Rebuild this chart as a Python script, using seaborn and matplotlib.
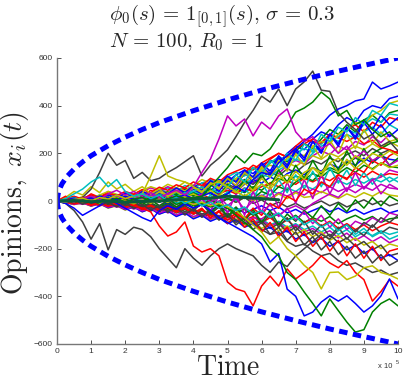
import numpy as np
import pandas as pd
import matplotlib
matplotlib.use('Agg')
import matplotlib.pyplot as plt
import seaborn as sns

# time axis in units of 10^5
time_1e5 = [0, 0.25, 0.5, 0.75, 1, 1.25, 1.5, 1.75, 2, 2.25, 2.5, 2.75, 3, 3.25, 3.5, 3.75,
            4, 4.25, 4.5, 4.75, 5, 5.25, 5.5, 5.75, 6, 6.25, 6.5, 6.75, 7, 7.25, 7.5, 7.75,
            8, 8.25, 8.5, 8.75, 9, 9.25, 9.5, 9.75, 10]

# trajectories that stand out from the crowd
gray_up = [0, 5, -10, 15, 50, 120, 200, 150, 170, 95, 120, 85, 95, 120, 140, 165, 190, 105, 150, 180, 215,
           270, 330, 380, 440, 415, 470, 400, 470, 500, 545, 465, 460, 370, 330, 300, 260, 280, 230, 250, 210]
gray_down = [0, -10, -40, -88, -160, -95, -205, -120, -140, -110, -120, -150, -200, -240, -280, -200, -240,
             -270, -230, -200, -180, -200, -215, -230, -270, -300, -256, -275, -230, -200, -170, -140, -160,
             -120, -100, -130, -90, -110, -70, -90, -60]
red_down = [0, 20, -10, 15, 0, -20, 10, -15, 5, -20, -30, -46, -105, -147, -130, -88, -189, -214, -200, -230,
            -340, -369, -380, -440, -357, -315, -357, -285, -327, -300, -270, -230, -260, -280, -250, -300,
            -330, -420, -380, -330, -357]
blue_down = [0, -10, -30, -60, -40, -20, 10, -10, -30, -50, -70, -85, -40, -20, -35, -10, -30, -15, -40, -70,
             -90, -110, -130, -150, -180, -256, -220, -370, -400, -482, -466, -424, -398, -420, -398, -430,
             -466, -440, -398, -327, -411]
green_down = [0, 5, -5, 10, 0, -10, 5, -5, 10, -10, 0, 15, -5, 10, -15, 0, -20, -10, -25, -15, -30, -60, -90,
              -120, -150, -200, -230, -300, -330, -382, -430, -482, -411, -460, -508, -550, -540, -466, -430,
              -411, -440]
yellow_down = [0, -5, 8, -3, 10, -8, 5, 15, 0, -12, 5, -10, 8, -5, 12, 0, -15, -5, -20, -10, -25, -40, -70,
               -100, -130, -180, -150, -200, -230, -270, -300, -369, -300, -298, -330, -315, -280, -272, -300,
               -310, -327]
blue_up = [0, -5, 8, 0, 12, -4, 15, 5, 20, 8, -5, 10, 20, 5, 15, 25, 10, 20, 35, 15, 30, 60, 40, 90, 120, 110,
           160, 190, 220, 250, 280, 320, 360, 386, 400, 420, 428, 499, 470, 483, 499]
green_up = [0, 4, -6, 8, -4, 10, 0, 12, -5, 8, 15, 0, 18, 5, 22, 10, 15, 20, 60, 100, 140, 190, 160, 200, 190,
            218, 273, 315, 373, 390, 415, 457, 428, 357, 380, 320, 340, 300, 270, 290, 250]
magenta_up = [0, 6, -4, 10, 20, 5, 30, 45, 25, 40, 20, 35, 15, 30, 45, 25, 60, 120, 176, 260, 357, 315, 344,
              273, 331, 302, 357, 386, 290, 250, 270, 220, 240, 200, 230, 180, 210, 170, 190, 150, 170]
yellow_up = [0, -4, 6, 12, 0, 15, 8, 25, 10, 20, 30, 105, 190, 105, 90, 80, 60, 40, 70, 80, 60, 40, 20, 45, 70,
             50, 90, 110, 85, 120, 140, 120, 160, 180, 150, 190, 170, 200, 185, 210, 190]
cyan_early = [0, 10, 30, 50, 80, 100, 60, 90, 40, 20, 30, 10, 25, 0, 15, -10, 5, -20, -5, -30, -15, -40, -25,
              -55, -40, -70, -50, -85, -65, -100, -80, -110, -90, -125, -100, -140, -115, -150, -130, -160, -145]

# the crowd of remaining agents (read roughly from the fan)
crowd = [
    [0, 8, -5, 12, 20, 10, 25, 15, 30, 20, 35, 28, 45, 38, 55, 40, 60, 75, 65, 90, 80, 110, 130, 115, 150, 170,
     160, 200, 230, 215, 260, 290, 275, 320, 350, 330, 380, 400, 390, 430, 440],
    [0, -6, 10, 4, -8, 15, 5, 22, 12, -5, 10, 30, 20, 40, 25, 50, 35, 60, 45, 70, 95, 80, 110, 140, 120, 160,
     180, 165, 210, 240, 220, 260, 300, 280, 320, 290, 340, 360, 330, 370, 380],
    [0, 10, 20, 5, 30, 15, 40, 25, 10, 30, 20, 45, 30, 15, 40, 55, 35, 60, 80, 65, 100, 85, 120, 150, 135, 175,
     200, 185, 230, 260, 250, 240, 280, 265, 300, 320, 290, 330, 310, 350, 340],
    [0, -5, 8, -3, 12, 25, 10, 18, 5, 20, 35, 20, 40, 55, 40, 65, 50, 75, 90, 70, 100, 120, 105, 140, 125, 160,
     185, 170, 200, 220, 205, 240, 265, 250, 280, 260, 290, 310, 280, 320, 300],
    [0, 6, -4, 10, 0, 15, 30, 18, 35, 22, 40, 55, 42, 60, 45, 35, 50, 30, 45, 60, 40, 70, 90, 75, 110, 130, 115,
     150, 170, 155, 190, 210, 195, 230, 215, 250, 235, 270, 245, 280, 260],
    [0, -4, 6, 18, 8, 25, 40, 28, 15, 30, 45, 60, 48, 70, 55, 80, 65, 90, 75, 55, 70, 90, 80, 105, 125, 110, 140,
     160, 145, 170, 190, 175, 200, 185, 210, 230, 215, 240, 220, 250, 230],
    [0, 5, -8, 0, -12, 5, -5, 10, 0, 15, 5, 20, 8, 25, 15, 35, 20, 40, 30, 50, 70, 55, 85, 70, 100, 120, 105,
     135, 120, 150, 170, 155, 180, 165, 195, 210, 190, 220, 200, 215, 200],
    [0, -8, 4, -10, 6, -4, 12, 0, 18, 5, 25, 10, 30, 18, 5, 25, 40, 20, 45, 30, 55, 40, 70, 90, 75, 100, 85, 115,
     130, 110, 140, 125, 155, 140, 165, 150, 180, 160, 190, 175, 170],
    [0, 7, -3, 14, 4, 20, 8, -6, 10, -2, 16, 28, 12, 30, 18, 40, 22, 45, 30, 15, 35, 50, 35, 60, 45, 75, 95, 80,
     105, 90, 115, 100, 130, 115, 140, 120, 150, 135, 160, 145, 140],
    [0, -3, -12, -4, -18, -6, 5, -8, 10, 0, -10, 8, -5, 15, 2, 20, 8, 25, 12, 30, 45, 30, 55, 40, 60, 75, 60, 85,
     70, 95, 80, 100, 85, 110, 95, 120, 100, 125, 105, 115, 110],
    [0, 5, 15, 5, 20, 10, 28, 15, -2, 12, -6, 8, 22, 5, 18, -4, 10, -8, 6, 20, 5, 25, 10, 35, 20, 45, 30, 55, 40,
     65, 50, 75, 60, 85, 70, 90, 75, 95, 80, 100, 80],
    [0, -5, 5, -8, -18, -5, -20, -8, 2, -12, 6, -6, 10, 0, 15, 3, -10, 8, -15, 0, 12, -5, 20, 5, 25, 10, 35, 20,
     40, 25, 50, 35, 60, 40, 55, 35, 60, 45, 70, 55, 50],
    [0, 4, -6, 8, -2, -14, 0, -18, -6, 5, -10, 10, -5, 12, -2, 15, 0, 20, 5, -8, 10, -5, 15, 0, 22, 5, 30, 10,
     35, 15, 20, 40, 25, 10, 30, 15, 35, 20, 40, 25, 20],
    [0, -4, 6, -2, 10, 0, -12, 2, -18, -5, -25, -10, -30, -15, -5, -20, 0, -12, 5, -8, 10, -5, 15, -10, 5, -20,
     -5, -25, -10, -30, -15, 0, -20, -5, -25, -10, 5, -15, 0, -20, -10],
    [0, 6, -2, -12, -4, -16, -8, -22, -10, -28, -15, -35, -20, -8, -25, -12, -30, -15, -38, -20, -45, -28, -50,
     -35, -20, -40, -25, -50, -35, -55, -40, -25, -45, -30, -50, -35, -55, -40, -30, -50, -40],
    [0, -6, -14, -5, -20, -10, -26, -15, -32, -20, -38, -24, -45, -30, -50, -35, -55, -40, -60, -45, -30, -50,
     -35, -60, -45, -70, -55, -80, -60, -90, -70, -85, -65, -95, -75, -60, -80, -65, -90, -75, -70],
    [0, 5, -5, 3, -10, -2, -16, -6, -22, -12, -30, -18, -38, -25, -45, -30, -52, -35, -60, -45, -70, -55, -80,
     -65, -90, -70, -100, -80, -110, -90, -75, -105, -85, -115, -95, -120, -100, -125, -105, -90, -100],
    [0, -8, 2, -12, -4, -18, -10, -24, -15, -30, -22, -38, -28, -45, -35, -55, -40, -60, -48, -70, -55, -80, -65,
     -90, -75, -100, -85, -110, -95, -120, -105, -130, -110, -140, -120, -150, -130, -145, -125, -140, -130],
    [0, 4, -6, -14, -8, -20, -12, -26, -18, -34, -24, -42, -30, -50, -38, -58, -45, -66, -52, -75, -60, -85, -70,
     -95, -80, -105, -90, -120, -100, -130, -115, -140, -125, -155, -135, -165, -145, -170, -150, -175, -160],
    [0, -5, -15, -8, -22, -12, -30, -20, -38, -25, -45, -32, -55, -40, -62, -48, -70, -55, -80, -62, -90, -75,
     -100, -85, -115, -95, -125, -105, -140, -120, -150, -130, -165, -145, -175, -155, -185, -170, -200, -180, -190],
    [0, 6, -4, -10, -2, -16, -8, -22, -14, -30, -20, -40, -28, -48, -36, -58, -44, -68, -52, -78, -60, -90, -70,
     -100, -85, -115, -95, -130, -110, -145, -125, -160, -140, -175, -155, -190, -170, -205, -185, -230, -220],
    [0, -4, -12, -6, -20, -10, -28, -18, -36, -25, -45, -32, -55, -42, -65, -50, -75, -60, -85, -70, -95, -80,
     -110, -95, -125, -110, -140, -125, -160, -140, -175, -155, -190, -170, -205, -185, -220, -200, -240, -225, -250],
    [0, 5, -5, 8, -8, 4, -12, 0, -15, -5, -20, -8, -25, -12, -30, -15, -5, -20, 0, -10, 10, 0, 25, 10, 40, 25,
     60, 45, 80, 100, 85, 120, 140, 125, 160, 180, 165, 200, 220, 240, 250],
    [0, 8, 18, 10, 25, 15, 32, 22, 40, 28, 48, 35, 58, 45, 68, 55, 80, 65, 95, 80, 110, 125, 140, 130, 160, 180,
     200, 185, 220, 240, 260, 245, 280, 265, 250, 270, 240, 255, 225, 215, 200],
    [0, -5, 6, -2, 10, 2, 15, 5, 20, 8, 25, 12, 30, 18, 35, 22, 40, 28, 50, 35, 60, 45, 75, 90, 110, 100, 130,
     150, 175, 165, 200, 230, 250, 270, 300, 285, 320, 345, 330, 365, 360],
    [0, -6, -14, -8, -20, -12, -26, -18, -35, -24, -42, -30, -50, -38, -58, -45, -65, -55, -75, -60, -80, -65,
     -90, -70, -75, -50, -60, -35, -20, -40, -10, 10, 30, 15, 50, 70, 55, 90, 100, 130, 120],
    [0, 4, 12, 6, 18, 10, 24, 16, 30, 20, 38, 28, 45, 35, 55, 42, 65, 50, 75, 85, 70, 95, 115, 100, 135, 150,
     140, 180, 200, 190, 230, 250, 240, 280, 300, 330, 320, 360, 380, 410, 420],
    [0, -5, 5, -8, 2, -12, -4, -18, -8, -24, -14, -30, -20, -38, -26, -45, -32, -55, -40, -65, -50, -80, -95, -85,
     -120, -140, -130, -170, -190, -180, -210, -230, -220, -250, -270, -260, -280, -300, -290, -310, -300],
    [0, 10, -5, 15, 5, 20, 10, 25, 5, 20, 30, 15, 35, 20, 40, 25, 50, 30, 70, 40, 90, 60, 120, 80, 150, 110, 180,
     140, 210, 170, 250, 200, 280, 230, 310, 260, 330, 280, 320, 270, 300],
    [0, -8, 5, -12, 0, -15, 5, -10, 15, -5, 20, 0, 25, 5, 30, 10, 35, 10, 50, 20, 70, 35, 90, 50, 110, 60, 130,
     80, 150, 95, 170, 110, 190, 130, 210, 145, 220, 160, 200, 150, 180],
    [0, 5, -10, 0, -15, -5, -20, -5, -25, -10, -30, -15, -35, -20, -40, -25, -50, -30, -70, -40, -95, -60, -110,
     -75, -130, -90, -150, -110, -170, -130, -190, -150, -210, -165, -230, -180, -240, -190, -250, -210, -200],
    [0, 6, 15, 0, 10, -8, 5, -12, 0, 15, 5, 20, -5, 10, -10, 5, 15, -15, 25, -10, 40, 0, 55, 10, 75, 20, 90, 35,
     110, 50, 125, 60, 140, 75, 130, 65, 120, 70, 115, 80, 100],
    [0, -5, 5, -10, 10, -5, 15, -5, 20, 0, -15, 10, -20, 5, -25, 0, -30, 10, -40, 20, -50, 30, -60, 40, -50, 60,
     -30, 80, -10, 90, 10, 110, 30, 100, 40, 120, 50, 90, 30, 70, 50],
    [0, -4, 8, 0, 12, 4, 18, 8, 24, 12, 30, 15, 38, 20, 45, 25, 55, 35, 75, 50, 95, 65, 120, 85, 145, 100, 170,
     125, 195, 150, 230, 180, 255, 200, 280, 220, 300, 240, 290, 250, 260],
    [0, 5, -5, 10, -10, 5, -15, 0, -20, -5, -25, -10, -30, -15, -35, -20, -40, -10, -55, -25, -70, -35, -80, -45,
     -95, -55, -110, -70, -125, -85, -140, -100, -150, -110, -160, -120, -145, -100, -135, -110, -120],
    [0, 5, 12, 4, 18, 8, 25, 12, 32, 18, 40, 25, 48, 30, 55, 35, 65, 45, 85, 65, 105, 80, 130, 100, 160, 125, 190,
     150, 220, 180, 250, 210, 280, 240, 310, 270, 340, 300, 360, 320, 350],
    [0, -3, 8, -6, 12, -2, 16, 0, -10, 8, -15, 5, -20, 0, -25, -5, -30, -5, -50, -15, -65, -25, -80, -35, -90, -40,
     -100, -55, -85, -40, -70, -20, -60, -10, -45, 5, -30, 15, -20, 20, 0],
    [0, -5, -12, -4, -18, -8, -22, -10, -28, -15, -35, -20, -40, -25, -48, -30, -55, -35, -70, -45, -80, -50, -75,
     -30, -60, -10, -30, 20, 0, 50, 30, 80, 60, 110, 90, 140, 120, 170, 150, 190, 210],
    [0, 4, -4, 8, -2, 12, 2, 16, 6, 20, 10, 25, 15, 30, 20, 35, 40, 60, 30, 80, 55, 110, 80, 140, 110, 170, 140,
     200, 170, 240, 210, 280, 250, 310, 290, 350, 320, 380, 360, 410, 400],
    [0, 6, -2, 10, 0, 14, 2, 18, 5, 22, 8, 26, 10, 30, 12, 25, 10, 30, -5, 20, -20, 10, -35, 0, -50, -15, -65,
     -30, -80, -45, -95, -60, -110, -75, -120, -85, -100, -70, -90, -50, -60],
    [0, 15, 40, 25, 60, 35, 80, 50, 70, 40, 60, 30, 50, 20, 40, 15, 30, 10, 45, 20, 60, 35, 75, 45, 95, 60, 110,
     75, 125, 90, 140, 105, 160, 120, 175, 135, 165, 130, 160, 140, 150],
    [0, -8, 4, -12, -2, -18, -6, -24, -10, -30, -15, -38, -20, -45, -28, -55, -35, -65, -40, -80, -55, -100, -70,
     -120, -90, -140, -110, -165, -130, -185, -150, -205, -170, -225, -190, -240, -210, -260, -225, -270, -250],
]

# mean opinion (thick dark line near zero)
mean_time = [0, 0.5, 1, 1.5, 2, 2.5, 3, 3.5, 4, 4.5, 5, 5.5, 6, 6.5]
mean_opinion = [0, 2, -3, 0, -5, -2, 0, 5, 8, 12, 20, 15, 10, 5]

# bounding curve (blue dashed)
bound_time = [0, 0.05, 0.15, 0.3, 0.5, 0.75, 1, 1.5, 2, 2.5, 3, 4, 5, 6, 7, 8, 9, 10]
bound_upper = [0, 42, 73, 104, 134, 164, 190, 232, 268, 300, 329, 379, 424, 465, 502, 537, 569, 600]

matlab_colors = ['#0000ff', '#008000', '#ff0000', '#00bfbf', '#bf00bf', '#bfbf00', '#404040']

featured = [(gray_up, '#404040'), (gray_down, '#404040'), (red_down, '#ff0000'), (blue_down, '#0000ff'),
            (green_down, '#008000'), (yellow_down, '#bfbf00'), (blue_up, '#0000ff'), (green_up, '#008000'),
            (magenta_up, '#bf00bf'), (yellow_up, '#bfbf00'), (cyan_early, '#00bfbf')]

rows = []
palette = []
agent = 0
for i, traj in enumerate(crowd):
    for t, v in zip(time_1e5, traj):
        rows.append((agent, t, v))
    palette.append(matlab_colors[i % len(matlab_colors)])
    agent += 1
for traj, col in featured:
    for t, v in zip(time_1e5, traj):
        rows.append((agent, t, v))
    palette.append(col)
    agent += 1
df = pd.DataFrame(rows, columns=['agent', 'time', 'opinion'])

sns.set_style('ticks')
plt.rcParams['font.family'] = ['Liberation Sans', 'DejaVu Sans']
plt.rcParams['mathtext.fontset'] = 'cm'

fig = plt.figure(figsize=(4.07, 3.81), dpi=100)
ax = fig.add_axes([57 / 407, 37 / 381, 341 / 407, 286 / 381])

sns.lineplot(data=df, x='time', y='opinion', hue='agent', palette=palette, legend=False,
             estimator=None, sort=False, linewidth=1.1, ax=ax)
sns.lineplot(x=mean_time, y=mean_opinion, color='#0b5a3c', linewidth=2.2, ax=ax)
bound_df = pd.DataFrame({'time': bound_time + bound_time,
                         'value': bound_upper + [-v for v in bound_upper],
                         'side': ['up'] * len(bound_time) + ['down'] * len(bound_time)})
sns.lineplot(data=bound_df, x='time', y='value', units='side', estimator=None, sort=False,
             color='#0000ff', linewidth=3.6, dashes=False, ax=ax)
for line in ax.lines[-2:]:
    line.set_dashes((1.7, 1.1))
    line.set_dash_capstyle('butt')

ax.set_xlim(0, 10)
ax.set_ylim(-600, 600)
ax.set_xticks(range(0, 11))
ax.set_yticks([-600, -400, -200, 0, 200, 400, 600])
ax.set_yticklabels(['\u2212600', '\u2212400', '\u2212200', '0', '200', '400', '600'])
ax.tick_params(direction='in', length=3, width=0.6, labelsize=6, colors='#333333', pad=3)
for s in ['top', 'right']:
    ax.spines[s].set_visible(False)
for s in ['left', 'bottom']:
    ax.spines[s].set_color('#777777')
    ax.spines[s].set_linewidth(1.0)
ax.set_xlabel('')
ax.set_ylabel('')

fig.text(109 / 407, 1 - 16 / 381, r'$\phi_0(s)\,=\,\mathbf{1}_{[0,1]}(s),\,\sigma\,=\,0.3$', fontsize=15,
         ha='left', va='center')
fig.text(109 / 407, 1 - 42 / 381, r'$N\,=\,100,\,R_0\,=\,1$', fontsize=15, ha='left', va='center')
fig.text(15 / 407, 1 - 203 / 381, r'$\mathrm{Opinions,}\ x_i(t)$', fontsize=20, rotation=90,
         ha='center', va='center')
fig.text(228 / 407, 1 - 368 / 381, r'$\mathrm{Time}$', fontsize=20, ha='center', va='center')
fig.text(378 / 407, 1 - 367 / 381, 'x 10', fontsize=5.5, ha='left', va='center', color='#333333')
fig.text(396 / 407, 1 - 362 / 381, '5', fontsize=4, ha='left', va='center', color='#333333')

fig.savefig('out.png', dpi=100)
